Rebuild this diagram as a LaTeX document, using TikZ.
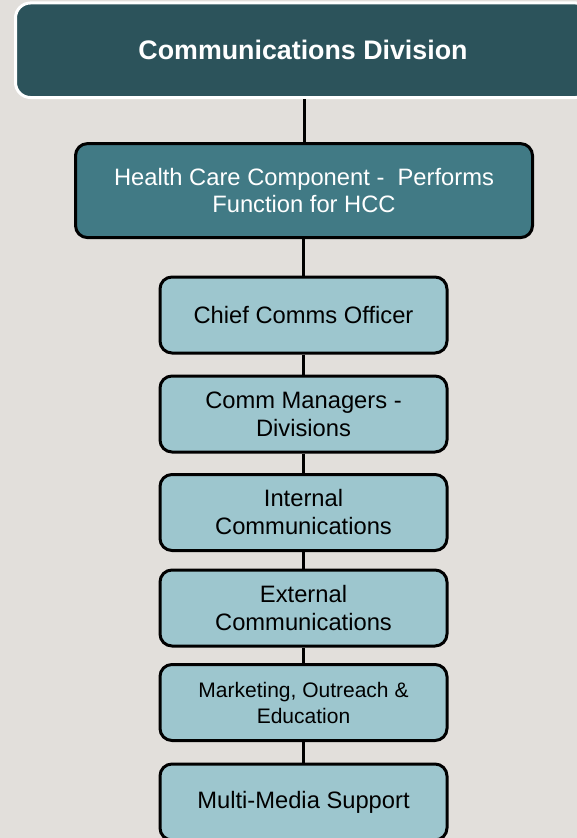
\documentclass[tikz,border=0pt]{standalone}
\usepackage{fontspec}
\setmainfont{Liberation Sans}

\tikzset{every picture/.style={line width=0.75pt}}
\tikzset{
	divbox/.style={draw={rgb, 255:red, 255; green, 255; blue, 255 }, line width=2.25pt, fill={rgb, 255:red, 44; green, 83; blue, 91 }, rounded corners=11.25pt, minimum width=431.25pt, minimum height=70.9pt, inner sep=0pt, text={rgb, 255:red, 255; green, 255; blue, 255 }, font=\fontsize{20.1}{23}\selectfont\bfseries},
	hccbox/.style={draw={rgb, 255:red, 0; green, 0; blue, 0 }, line width=2.25pt, fill={rgb, 255:red, 65; green, 122; blue, 133 }, rounded corners=9pt, minimum width=342.75pt, minimum height=70.5pt, inner sep=0pt, align=center, text={rgb, 255:red, 255; green, 255; blue, 255 }, font=\fontsize{17.8}{20.5}\selectfont},
	rolebox/.style={draw={rgb, 255:red, 0; green, 0; blue, 0 }, line width=2.25pt, fill={rgb, 255:red, 157; green, 198; blue, 206 }, rounded corners=9pt, minimum width=215.25pt, minimum height=57pt, inner sep=0pt, align=center, text={rgb, 255:red, 0; green, 0; blue, 0 }, font=\fontsize{17.8}{21}\selectfont},
	link/.style={draw={rgb, 255:red, 0; green, 0; blue, 0 }, line width=2.25pt}
}

\begin{document}
\begin{tikzpicture}[x=0.75pt,y=0.75pt,yscale=-1,xscale=1]
		%Background
		\fill [fill={rgb, 255:red, 226; green, 223; blue, 219 }] (0,0) rectangle (577,838) ;
		\useasboundingbox (0,0) rectangle (577,838) ;

		%Shape: Rounded Rect [id:division] 
		\node [divbox] (division) at (303,50.25) {Communications Division};
		%Shape: Rounded Rect [id:hcc] 
		\node [hccbox] (hcc) at (304,190.6) {Health Care Component -\ \ Performs\\ Function for HCC};

		%Shape: Rounded Rect [id:chief] 
		\node [rolebox] (chief) at (303.5,315) {Chief Comms Officer};
		%Shape: Rounded Rect [id:managers] 
		\node [rolebox] (managers) at (303.5,414) {Comm Managers -\\ Divisions};
		%Shape: Rounded Rect [id:internal] 
		\node [rolebox] (internal) at (303.5,512.5) {Internal\\ Communications};
		%Shape: Rounded Rect [id:external] 
		\node [rolebox] (external) at (303.5,608) {External\\ Communications};
		%Shape: Rounded Rect [id:marketing] 
		\node [rolebox, font=\fontsize{15.75}{19.5}\selectfont] (marketing) at (303.5,702.5) {Marketing, Outreach \&\\ Education};
		%Shape: Rounded Rect [id:media] 
		\node [rolebox] (media) at (303.5,802) {Multi-Media Support};

		%Straight Lines
		\draw [link] (division.south -| hcc.north) -- (hcc.north) ;
		\draw [link] (hcc.south -| chief.north) -- (chief.north) ;
		\draw [link] (chief) -- (managers) ;
		\draw [link] (managers) -- (internal) ;
		\draw [link] (internal) -- (external) ;
		\draw [link] (external) -- (marketing) ;
		\draw [link] (marketing) -- (media) ;

\end{tikzpicture}
\end{document}
